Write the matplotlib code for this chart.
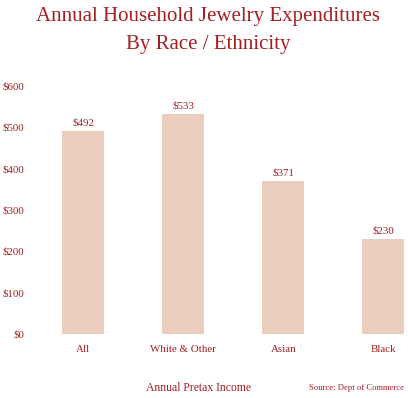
import matplotlib
matplotlib.use("Agg")
import matplotlib.pyplot as plt

categories = ["All", "White & Other", "Asian", "Black"]
values = [492, 533, 371, 230]
yticks = [0, 100, 200, 300, 400, 500, 600]
ytick_labels = ["$0", "$100", "$200", "$300", "$400", "$500", "$600"]

red = "#A31F22"
bar_color = "#EBCDBD"
font = "Liberation Serif"

fig = plt.figure(figsize=(4.08, 3.98), dpi=100)
fig.patch.set_facecolor("white")
ax = fig.add_axes([0.09, 1 - 334 / 398, 0.91, (334 - 86) / 398])

x = list(range(len(categories)))
bars = ax.bar(x, values, width=0.42, color=bar_color)
for xi, v in zip(x, values):
    ax.annotate(f"${v}", (xi, v), xytext=(0, 2.5), textcoords="offset points",
                ha="center", va="bottom", color=red, fontsize=7.8, family=font)

ax.set_xlim(-0.463, 3.247)
ax.set_ylim(0, 600)
ax.set_yticks(yticks)
ax.set_yticklabels(ytick_labels, family=font, fontsize=7.8, color=red)
ax.set_xticks(x)
ax.set_xticklabels(categories, family=font, fontsize=7.8, color=red)
ax.tick_params(length=0)
ax.tick_params(axis="x", pad=8)
ax.tick_params(axis="y", pad=9)
for s in ax.spines.values():
    s.set_visible(False)

fig.text(208.5 / 408, 1 - 16 / 398, "Annual Household Jewelry Expenditures",
         ha="center", va="center", fontsize=15, color=red, family=font)
fig.text(208.5 / 408, 1 - 45 / 398, "By Race / Ethnicity",
         ha="center", va="center", fontsize=15, color=red, family=font)
fig.text(199 / 408, 1 - 388 / 398, "Annual Pretax Income",
         ha="center", va="center", fontsize=8.4, color=red, family=font)
fig.text(404 / 408, 1 - 388 / 398, "Source: Dept of Commerce",
         ha="right", va="center", fontsize=6.2, color=red, family=font)

fig.savefig("out.png", dpi=100, facecolor="white")
